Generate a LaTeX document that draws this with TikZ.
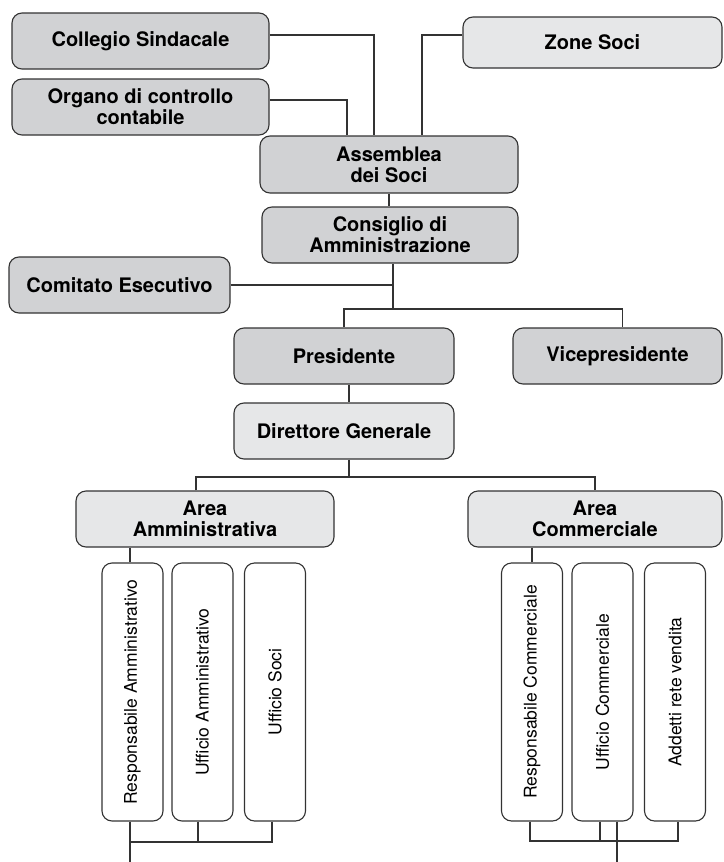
\documentclass[tikz,border=0pt]{standalone}
\usepackage{fontspec}
\setmainfont{TeX Gyre Heros}
\usepackage{graphicx}
\definecolor{boxdark}{HTML}{D1D2D4}
\definecolor{boxlight}{HTML}{E6E7E8}
\definecolor{linegray}{HTML}{333333}

\begin{document}
\begin{tikzpicture}[x=1pt,y=-1pt,
    every node/.style={draw=linegray, line width=1.1pt, rounded corners=10pt, align=center, inner sep=0pt},
    darkbox/.style={fill=boxdark, font=\bfseries\fontsize{20}{21}\selectfont, minimum height=56pt},
    lightbox/.style={fill=boxlight, font=\bfseries\fontsize{20}{21}\selectfont, minimum height=56pt},
    ufficio/.style={fill=white, font=\fontsize{17.5}{20}\selectfont, minimum width=61pt, minimum height=258pt},
    link/.style={draw=linegray, line width=1.1pt}]
    % Page frame
    \fill[white] (0,0) rectangle (723,862);
    \useasboundingbox (0,0) rectangle (723,862);
    % Draw the boxes of the governing bodies
    \node[darkbox, minimum width=257pt] (collegio) at (140.5,41) {Collegio Sindacale};
    \node[darkbox, minimum width=257pt] (organo) at (140.5,107) {Organo di controllo\\contabile};
    \node[lightbox, minimum width=259pt, minimum height=51pt] (zone) at (592.5,42.5) {Zone Soci};
    \node[darkbox, minimum width=258pt, minimum height=57pt] (assemblea) at (389,164.5) {Assemblea\\dei Soci};
    \node[darkbox, minimum width=256pt] (consiglio) at (390,235) {Consiglio di\\Amministrazione};
    \node[darkbox, minimum width=221pt] (comitato) at (119.5,285) {Comitato Esecutivo};
    \node[darkbox, minimum width=220pt] (presidente) at (344,356) {Presidente};
    \node[darkbox, minimum width=209pt] (vice) at (617.5,356) {Vicepresidente};
    % Draw the management boxes
    \node[lightbox, minimum width=220pt] (direttore) at (344,431) {Direttore Generale};
    \node[lightbox, minimum width=258pt] (areaamm) at (205,519) {Area\\Amministrativa};
    \node[lightbox, minimum width=254pt] (areacom) at (595,519) {Area\\Commerciale};
    % Draw the offices
    \node[ufficio] (respamm) at (132.5,692) {\rotatebox{90}{Responsabile Amministrativo}};
    \node[ufficio] (uffamm) at (202.5,692) {\rotatebox{90}{Ufficio Amministrativo}};
    \node[ufficio] (uffsoci) at (275,692) {\rotatebox{90}{Ufficio Soci}};
    \node[ufficio] (respcom) at (532,692) {\rotatebox{90}{Responsabile Commerciale}};
    \node[ufficio] (uffcom) at (602.5,692) {\rotatebox{90}{Ufficio Commerciale}};
    \node[ufficio] (addetti) at (675,692) {\rotatebox{90}{Addetti rete vendita}};
    % Junction points
    \coordinate (bivio) at (393,309);
    \coordinate (bivioaree) at (349,477);
    \coordinate (raccamm) at (130,842);
    \coordinate (racccom) at (530,841);
    \coordinate (uscitaamm) at (130,862);
    \coordinate (uscitacom) at (617,862);
    % Draw the links
    \draw[link] ([yshift=6pt]collegio.east) -| ([xshift=-15pt]assemblea.north);
    \draw[link] ([yshift=7pt]organo.east) -| ([xshift=-42pt]assemblea.north);
    \draw[link] ([yshift=7.5pt]zone.west) -| ([xshift=33pt]assemblea.north);
    \draw[link] (assemblea.south) -- (assemblea.south |- consiglio.north);
    \draw[link] ([xshift=3pt]consiglio.south) -- (bivio);
    \draw[link] (comitato.east) -- (comitato.east -| bivio);
    \draw[link] (presidente.north) |- (bivio) -| ([xshift=5pt]vice.north);
    \draw[link] ([xshift=5pt]presidente.south) -- ([xshift=5pt]direttore.north);
    \draw[link] ([xshift=5pt]direttore.south) -- (bivioaree);
    \draw[link] ([xshift=-9pt]areaamm.north) |- (bivioaree) -| (areacom.north);
    \draw[link] (areaamm.south -| raccamm) -- (respamm.north -| raccamm);
    \draw[link] (areacom.south -| respcom.north) -- (respcom.north);
    % Draw the links under the offices
    \draw[link] (respamm.south -| raccamm) -- (uscitaamm);
    \draw[link] ([xshift=-4.5pt]uffamm.south) |- (raccamm);
    \draw[link] ([xshift=-3pt]uffsoci.south) |- (raccamm);
    \draw[link] (respcom.south -| racccom) -- (racccom) -| ([xshift=3pt]addetti.south);
    \draw[link] ([xshift=-2.5pt]uffcom.south) -- ([xshift=-2.5pt]uffcom.south |- racccom);
    \draw[link] ([xshift=14.5pt]uffcom.south) -- (uscitacom);
\end{tikzpicture}
\end{document}
